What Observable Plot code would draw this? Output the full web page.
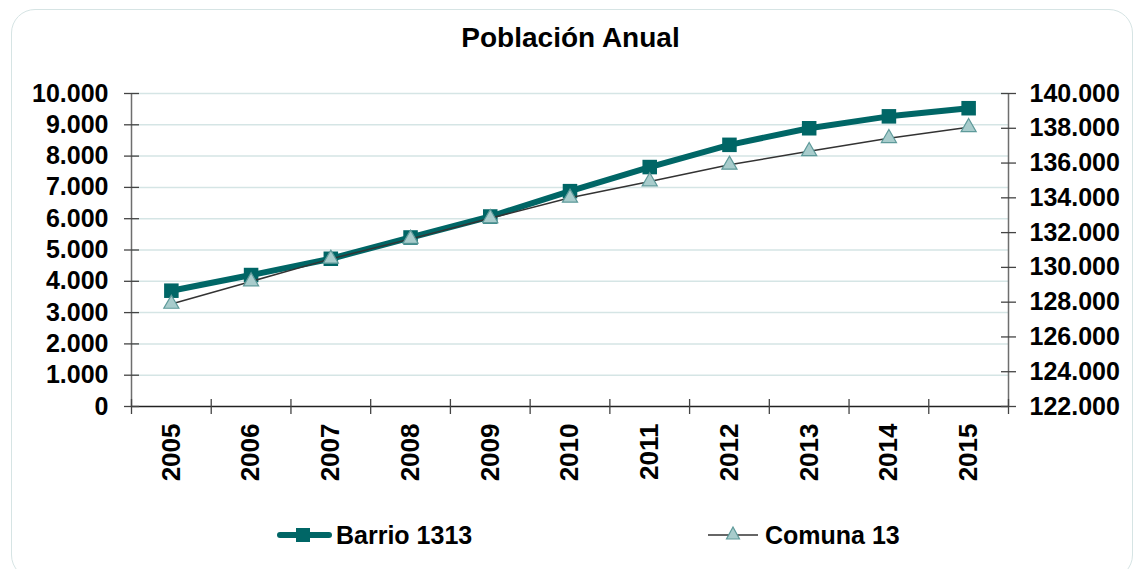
<!DOCTYPE html>
<html>
<head>
<meta charset="utf-8">
<script src="https://cdn.jsdelivr.net/npm/d3@7"></script>
<script src="https://cdn.jsdelivr.net/npm/@observablehq/plot@0.6"></script>
<style>
  html, body { margin: 0; padding: 0; background: #ffffff; }
  #wrap { position: relative; width: 1141px; height: 569px; overflow: hidden; font-family: "Liberation Sans", Arial, sans-serif; }
  #border { position: absolute; left: 11px; top: 9px; width: 1122px; height: 570px; border: 1.5px solid #d6e4e4; border-radius: 24px; box-sizing: border-box; }
  #title { position: absolute; left: 0; width: 1141px; top: 22px; text-align: center; font-weight: bold; font-size: 28px; color: #000; }
  #chart { position: absolute; left: 0; top: 0; }
  .leg { position: absolute; top: 519px; display: flex; align-items: center; font-weight: bold; font-size: 25px; color: #000; }
  .leg svg { display: block; margin-right: 3px; }
</style>
</head>
<body>
<div id="wrap">
  <div id="border"></div>
  <div id="title">Población Anual</div>
  <div id="chart"></div>
  <div class="leg" style="left:276px"><svg width="57" height="32"><line x1="4" y1="16" x2="53" y2="16" stroke="#006666" stroke-width="6" stroke-linecap="round"/><rect x="20" y="9" width="14" height="14" fill="#006666"/></svg><span>Barrio 1313</span></div>
  <div class="leg" style="left:707px"><svg width="55" height="32"><line x1="1" y1="16" x2="51" y2="16" stroke="#333333" stroke-width="1.5"/><path d="M26,8 L32.5,20 L19.5,20 Z" fill="#a8cccc" stroke="#5e9a9a" stroke-width="1.2"/></svg><span>Comuna 13</span></div>
</div>
<script>
// ---- data ----
const years = [2005, 2006, 2007, 2008, 2009, 2010, 2011, 2012, 2013, 2014, 2015];
const barrio = [3700, 4200, 4720, 5400, 6070, 6880, 7650, 8360, 8890, 9270, 9530];
const comuna = [127900, 129190, 130490, 131640, 132830, 134000, 134940, 135900, 136680, 137430, 138060];
const leftTicks = [0, 1000, 2000, 3000, 4000, 5000, 6000, 7000, 8000, 9000, 10000];
const rightTicks = [122000, 124000, 126000, 128000, 130000, 132000, 134000, 136000, 138000, 140000];
const seriesNames = ["Barrio 1313", "Comuna 13"];

// ---- helpers ----
const locale = d3.formatLocale({decimal: ",", thousands: ".", grouping: [3], currency: ["$", ""]});
const fmt = locale.format(",d");
const leftDomain = [leftTicks[0], leftTicks[leftTicks.length - 1]];
const rightDomain = [rightTicks[0], rightTicks[rightTicks.length - 1]];
const toLeft = v => leftDomain[0] + (v - rightDomain[0]) / (rightDomain[1] - rightDomain[0]) * (leftDomain[1] - leftDomain[0]);
const xDomain = [years[0] - 0.5, years[years.length - 1] + 0.5];
const edges = years.map(y => y - 0.5).concat([years[years.length - 1] + 0.5]);

const barrioData = years.map((y, i) => ({year: y, value: barrio[i]}));
const comunaData = years.map((y, i) => ({year: y, value: comuna[i], yl: toLeft(comuna[i])}));

const hTick = {draw(ctx) { ctx.moveTo(-7.5, 0); ctx.lineTo(7.5, 0); }};
const vTick = {draw(ctx) { ctx.moveTo(0, -7.5); ctx.lineTo(0, 7.5); }};

const chart = Plot.plot({
  width: 1141,
  height: 569,
  marginLeft: 131,
  marginRight: 133,
  marginTop: 93,
  marginBottom: 163,
  style: {fontFamily: "'Liberation Sans', Arial, sans-serif", fontWeight: "bold", fontSize: "25px", color: "#000", background: "transparent", overflow: "visible"},
  x: {domain: xDomain, axis: null},
  y: {domain: leftDomain, axis: null},
  marks: [
    Plot.ruleY(leftTicks.slice(1), {stroke: "#d5e5e5", strokeWidth: 1.5, strokeOpacity: 1}),
    Plot.ruleX([xDomain[0]], {stroke: "#6e6e6e", strokeWidth: 1.5}),
    Plot.ruleX([xDomain[1]], {stroke: "#6e6e6e", strokeWidth: 1.5}),
    Plot.ruleY([leftDomain[0]], {stroke: "#222", strokeWidth: 1.5}),
    Plot.dot(leftTicks, {y: d => d, frameAnchor: "left", symbol: hTick, stroke: "#444", strokeWidth: 1.3, r: 5}),
    Plot.dot(rightTicks, {y: d => toLeft(d), frameAnchor: "right", symbol: hTick, stroke: "#444", strokeWidth: 1.3, r: 5}),
    Plot.dot(edges, {x: d => d, y: () => leftDomain[0], symbol: vTick, stroke: "#444", strokeWidth: 1.3, r: 5}),
    Plot.text(leftTicks, {y: d => d, frameAnchor: "left", text: d => fmt(d), textAnchor: "end", dx: -23, fontSize: 25, fontWeight: "bold"}),
    Plot.text(rightTicks, {y: d => toLeft(d), frameAnchor: "right", text: d => fmt(d), textAnchor: "start", dx: 21, fontSize: 25, fontWeight: "bold"}),
    Plot.text(years, {x: d => d, y: () => leftDomain[0], text: d => String(d), rotate: -90, textAnchor: "end", dy: 17, fontSize: 26, fontWeight: "bold"}),
    Plot.line(barrioData, {x: "year", y: "value", stroke: "#006666", strokeWidth: 6, strokeLinejoin: "round"}),
    Plot.dot(barrioData, {x: "year", y: "value", symbol: "square", fill: "#006666", r: 8.2}),
    Plot.line(comunaData, {x: "year", y: "yl", stroke: "#333333", strokeWidth: 1.5}),
    Plot.dot(comunaData, {x: "year", y: "yl", symbol: "triangle", fill: "#a8cccc", stroke: "#5e9a9a", strokeWidth: 1.2, r: 5.6})
  ]
});
document.getElementById("chart").appendChild(chart);
</script>
</body>
</html>
